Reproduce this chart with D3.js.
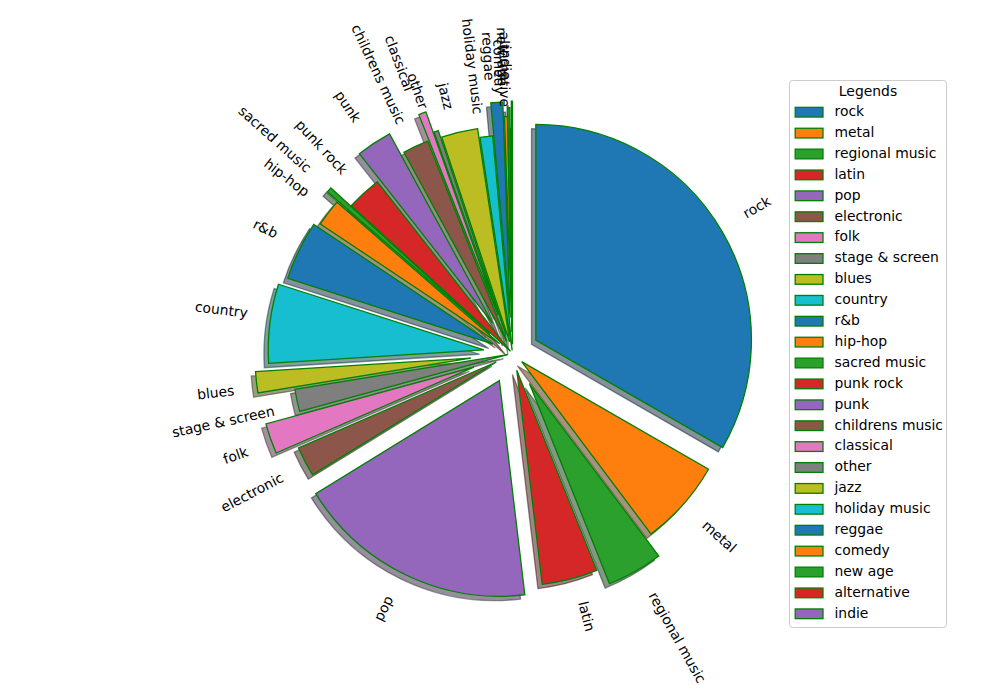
<!DOCTYPE html>
<html><head><meta charset="utf-8">
<script src="https://cdn.jsdelivr.net/npm/d3@7"></script>
<style>body{margin:0;background:#fff} svg{display:block} text{font-family:"DejaVu Sans",sans-serif;fill:#000}</style>
</head><body><svg id="chart" width="1000" height="700"></svg>
<script>
const categories = ["rock","metal","regional music","latin","pop","electronic","folk","stage & screen","blues","country","r&b","hip-hop","sacred music","punk rock","punk","childrens music","classical","other","jazz","holiday music","reggae","comedy","new age","alternative","indie"];
const values = [33.31,6.44,4.19,4.17,18.11,2.25,2.28,1.67,1.58,5.92,4.44,2.03,0.39,2.61,2.67,1.94,0.56,0.33,2.72,0.94,0.89,0.22,0.17,0.08,0.08];
const explode = [0.125,0.057,0.16,0.08,0.14,0.085,0.19,0.023,0.195,0.134,0.10,0.075,0.14,0.014,0.168,0.061,0.19,0.09,0.056,0.014,0.167,0.10,0.14,0.043,0.17];
const legendTitle = "Legends";

const cx = 512.5, cy = 353.5, R = 215.6;
const fs = 13.9, th = 13.5, td = 2.9;
const svg = d3.select("#chart");
const color = d3.scaleOrdinal(categories, d3.schemeCategory10);
const data = categories.map((c,i)=>({c, v: values[i], e: explode[i]}));
const arcs = d3.pie().sort(null).value(d=>d.v).startAngle(0).endAngle(2*Math.PI)(data);
const arc = d3.arc().innerRadius(0).outerRadius(R);
function dir(d){ const m=(d.startAngle+d.endAngle)/2; return [Math.sin(m), -Math.cos(m), m]; }
function shadeCol(c){ const r=d3.rgb(c); return `rgb(${r.r*0.3},${r.g*0.3},${r.b*0.3})`; }

const g = svg.append("g").attr("transform",`translate(${cx},${cy})`);
// shadows first (drawn below all wedges)
g.selectAll("path.shadow").data(arcs).join("path").attr("class","shadow")
  .attr("transform", d=>{ const [ux,uy]=dir(d); const dd=d.data.e*R; return `translate(${ux*dd-0.02*R},${uy*dd+0.02*R})`; })
  .attr("d", arc)
  .attr("fill", d=>shadeCol(color(d.data.c))).attr("fill-opacity",0.5)
  .attr("stroke", d=>shadeCol(color(d.data.c))).attr("stroke-opacity",0.5).attr("stroke-width",1.3)
  .attr("stroke-linejoin","miter");
// wedges
g.selectAll("path.wedge").data(arcs).join("path").attr("class","wedge")
  .attr("transform", d=>{ const [ux,uy]=dir(d); const dd=d.data.e*R; return `translate(${ux*dd},${uy*dd})`; })
  .attr("d", arc)
  .attr("fill", d=>color(d.data.c))
  .attr("stroke","green").attr("stroke-width",1.3).attr("stroke-linejoin","miter");
// labels (matplotlib rotatelabels logic)
arcs.forEach(d=>{
  const [ux,uy,m] = dir(d);
  const D = d.data.e*R + 1.1*R;
  const px = ux*D, py = uy*D;
  const thetaDeg = 90 - m*180/Math.PI;
  const rot = thetaDeg + (ux>0 ? 0 : 180);
  const t = g.append("text").attr("font-size",fs).attr("text-anchor","middle").text(d.data.c);
  const w = t.node().getComputedTextLength();
  const r = rot*Math.PI/180;
  const BW = Math.abs(w*Math.cos(r)) + Math.abs(th*Math.sin(r));
  const BH = Math.abs(w*Math.sin(r)) + Math.abs(th*Math.cos(r));
  const bx = ux>0 ? px + BW/2 : px - BW/2;
  const by = uy<0 ? py - BH/2 : py + BH/2;
  t.attr("transform",`translate(${bx},${by}) rotate(${-rot})`).attr("y", th/2 - td);
});

// legend
const ly = d3.scalePoint().domain(categories).range([112.2, 613.8]);
const lg = svg.append("g");
lg.append("rect").attr("x",789.5).attr("y",80.5).attr("width",157).attr("height",547).attr("rx",3)
  .attr("fill","white").attr("fill-opacity",0.8).attr("stroke","#cccccc").attr("stroke-width",1);
lg.append("text").attr("x",868).attr("y",96).attr("text-anchor","middle").attr("font-size",fs).text(legendTitle);
categories.forEach(c=>{
  const y = ly(c);
  lg.append("rect").attr("x",795.2).attr("y",y-4.85).attr("width",27.8).attr("height",9.7)
    .attr("fill",color(c)).attr("stroke","green").attr("stroke-width",1.3);
  lg.append("text").attr("x",834.5).attr("y",y+th/2-td).attr("font-size",fs).text(c);
});
</script></body></html>
